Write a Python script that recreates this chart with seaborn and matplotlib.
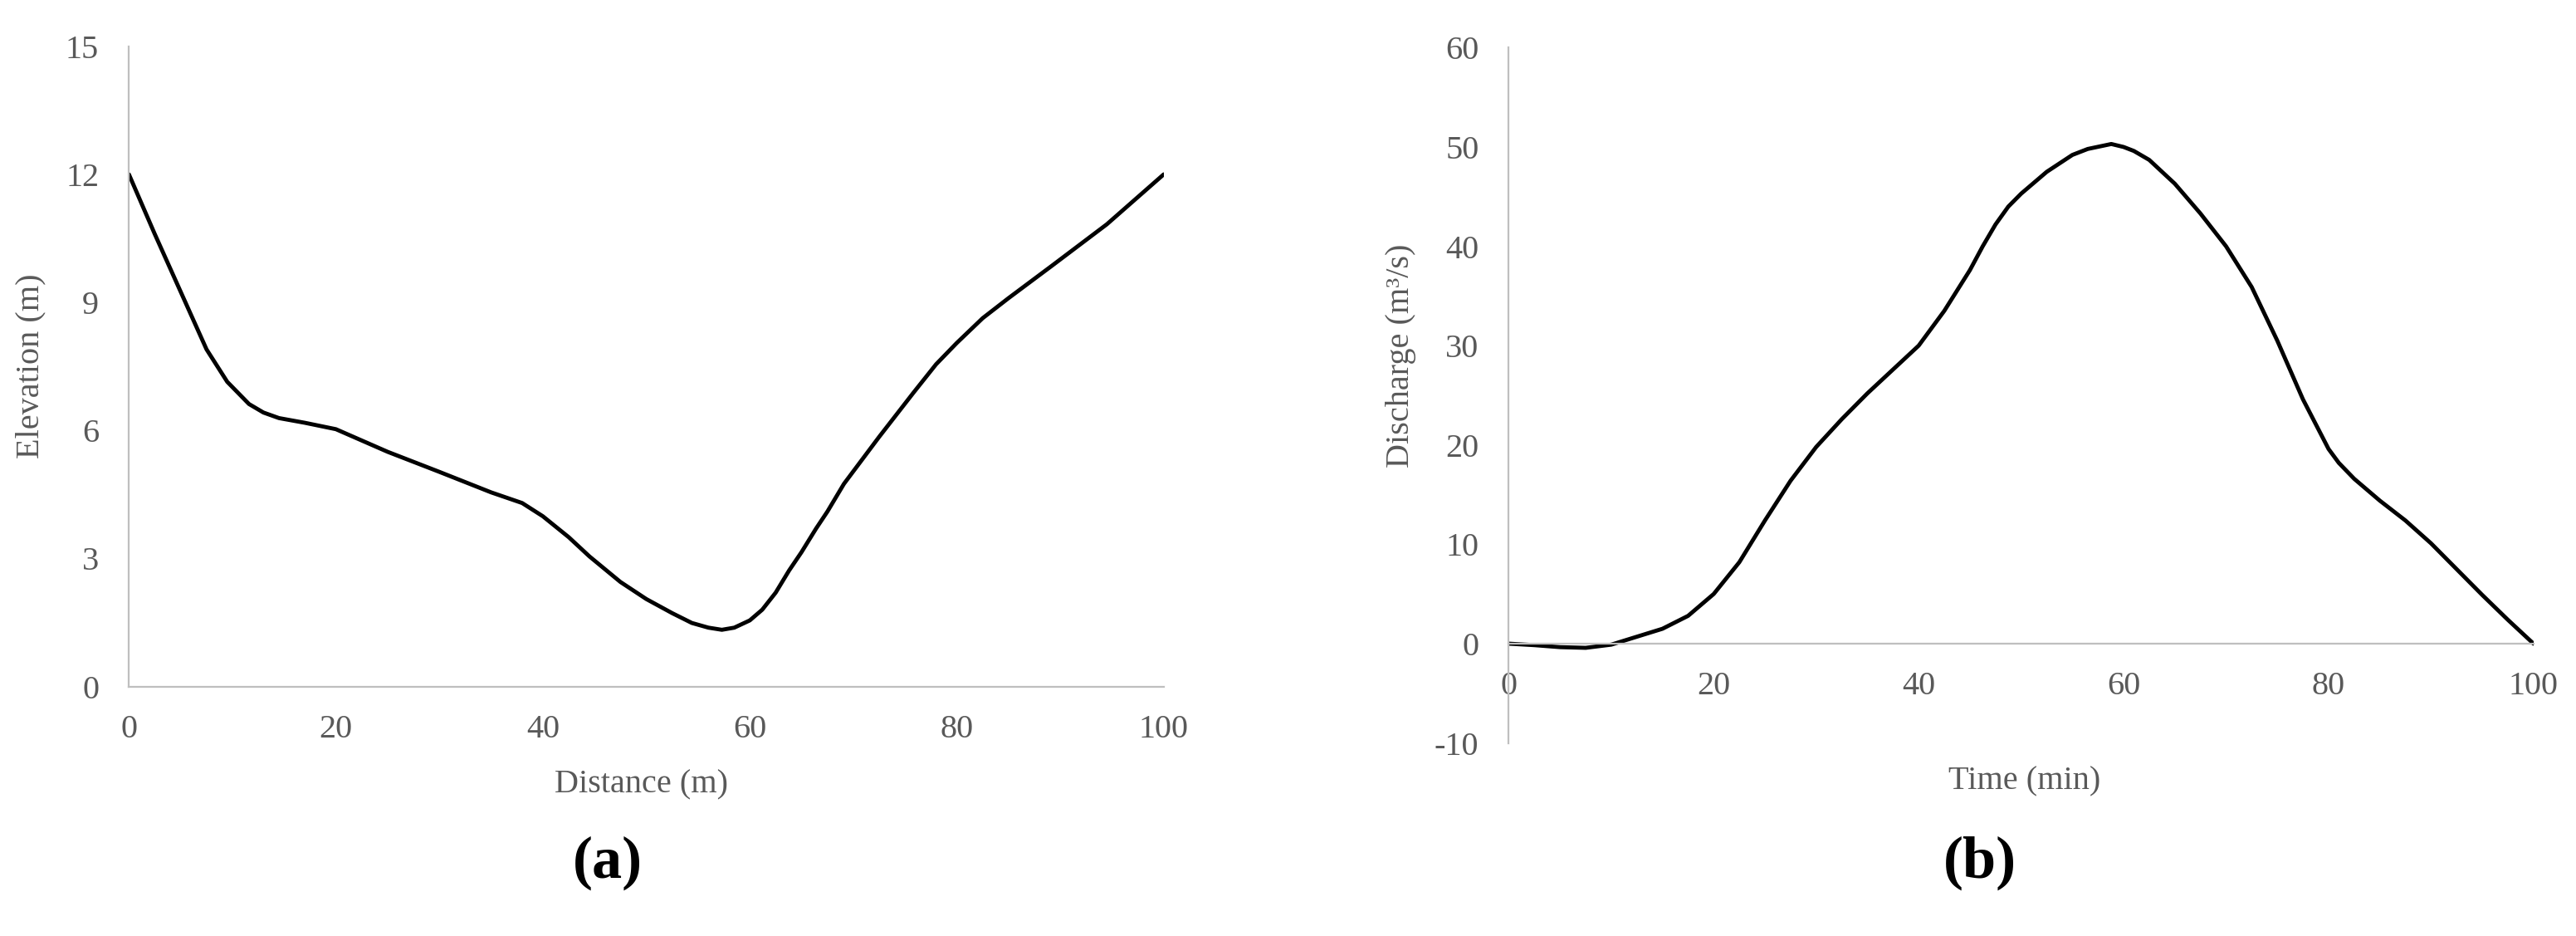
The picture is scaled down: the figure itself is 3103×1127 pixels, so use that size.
import numpy as np
import pandas as pd
import matplotlib
matplotlib.use("Agg")
import matplotlib.pyplot as plt
import seaborn as sns

# (a) cross-section profile
distance = [0, 2.5, 5, 7.5, 9.5, 11.6, 13, 14.5, 17, 20, 25, 30, 35, 38, 40, 42.5, 44.5,
            47.5, 50, 52.5, 54.4, 56, 57.3, 58.5, 60, 61.2, 62.5, 63.8, 65, 66.4, 67.5,
            69.1, 72.5, 75.8, 78, 80, 82.5, 85, 89.2, 94.5, 100]
elevation = [12.0, 10.6, 9.25, 7.9, 7.14, 6.62, 6.42, 6.29, 6.18, 6.03, 5.5, 5.03, 4.55,
             4.3, 3.99, 3.5, 3.05, 2.45, 2.05, 1.72, 1.49, 1.38, 1.33, 1.38, 1.55, 1.8,
             2.2, 2.72, 3.15, 3.7, 4.1, 4.75, 5.85, 6.88, 7.55, 8.05, 8.63, 9.1, 9.86,
             10.83, 12.0]

# (b) hydrograph
time_min = [0, 2.5, 5, 7.5, 10, 12.5, 15, 17.5, 20, 22.5, 25, 27.5, 30, 32.5, 35, 37.5,
            40, 42.5, 45, 46.25, 47.5, 48.75, 50, 52.5, 55, 56.5, 58.8, 60, 61, 62.5,
            65, 67.5, 70, 72.5, 75, 77.5, 80, 81, 82.5, 85, 87.5, 90, 92.5, 95, 97.5, 100]
discharge = [0, -0.15, -0.35, -0.42, -0.1, 0.7, 1.5, 2.8, 5.0, 8.2, 12.4, 16.4, 19.8,
             22.6, 25.2, 27.6, 30.0, 33.5, 37.6, 40.0, 42.2, 44.0, 45.3, 47.5, 49.2, 49.8,
             50.3, 50.0, 49.6, 48.7, 46.3, 43.3, 40.0, 35.9, 30.5, 24.6, 19.6, 18.2, 16.6,
             14.4, 12.4, 10.1, 7.5, 4.9, 2.4, 0]

x_ticks = [0, 20, 40, 60, 80, 100]
yticks_a = [0, 3, 6, 9, 12, 15]
yticks_b = [-10, 0, 10, 20, 30, 40, 50, 60]

sns.set_style("white")
plt.rcParams['font.family'] = ['Liberation Serif', 'DejaVu Serif']
plt.rcParams['axes.unicode_minus'] = False

grey_txt = "#595959"
grey_ax = "#BFBFBF"
fs = 29

fig = plt.figure(figsize=(31.03, 11.27), dpi=100)
ax1 = fig.add_axes([0.05005, 0.2665, 0.4017, 0.684])
ax2 = fig.add_axes([0.5857, 0.2062, 0.3978, 0.7429])

df_a = pd.DataFrame({"Distance": distance, "Elevation": elevation})
df_b = pd.DataFrame({"Time": time_min, "Discharge": discharge})

sns.lineplot(data=df_a, x="Distance", y="Elevation", ax=ax1, color="black",
             linewidth=3.5, sort=False, estimator=None)
sns.lineplot(data=df_b, x="Time", y="Discharge", ax=ax2, color="black",
             linewidth=3.5, sort=False, estimator=None)

for ax in (ax1, ax2):
    ax.set_xlim(0, 100)
    ax.set_xticks(x_ticks)
    for s in ("top", "right"):
        ax.spines[s].set_visible(False)
    for s in ("left", "bottom"):
        ax.spines[s].set_color(grey_ax)
        ax.spines[s].set_linewidth(1.6)
    ax.tick_params(length=0, labelsize=fs, colors=grey_txt)
    ax.tick_params(axis="x", pad=24)
    ax.tick_params(axis="y", pad=26)

ax1.set_ylim(0, 15)
ax1.set_yticks(yticks_a)
ax2.set_ylim(-10, 60)
ax2.set_yticks(yticks_b)
ax2.spines["bottom"].set_position(("data", 0))

ax1.set_xlabel("Distance (m)", fontsize=fs, color=grey_txt)
ax1.set_ylabel("Elevation (m)", fontsize=fs, color=grey_txt)
ax1.xaxis.set_label_coords(0.495, -0.129)
ax1.yaxis.set_label_coords(-0.0805, 0.5)

ax2.set_xlabel("Time (min)", fontsize=fs, color=grey_txt)
ax2.set_ylabel("Discharge (m³/s)", fontsize=fs, color=grey_txt)
ax2.xaxis.set_label_coords(0.503, -0.033)
ax2.yaxis.set_label_coords(-0.090, 0.557)

fig.text(732 / 3103, 1 - 1039 / 1127, "(a)", fontsize=52, fontweight="bold",
         ha="center", va="center", color="black")
fig.text(2385 / 3103, 1 - 1039 / 1127, "(b)", fontsize=52, fontweight="bold",
         ha="center", va="center", color="black")

fig.savefig("out.png", dpi=100)
